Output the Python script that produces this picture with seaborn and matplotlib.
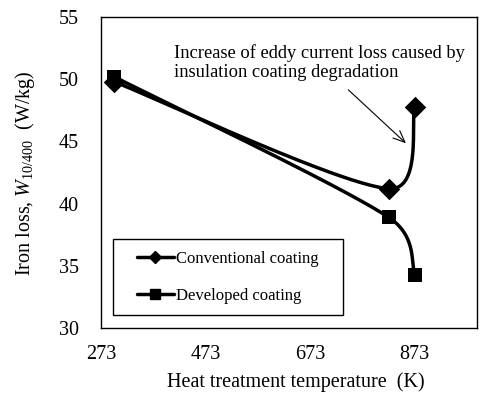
import numpy as np
import pandas as pd
import matplotlib
matplotlib.use("Agg")
import matplotlib.pyplot as plt
import seaborn as sns
from matplotlib.lines import Line2D
from matplotlib.patches import Rectangle

# ---- data ----
temps_conv = [298, 823, 873]
loss_conv = [49.8, 41.2, 47.8]
temps_dev = [298, 823, 873]
loss_dev = [50.2, 38.9, 34.3]
series_names = ["Conventional coating", "Developed coating"]
xticks_major = [273, 473, 673, 873]
xticks_minor = [373, 573, 773, 973]
yticks = [30, 35, 40, 45, 50, 55]
annotation_text = "Increase of eddy current loss caused by\ninsulation coating degradation"

sns.set_theme(style="white")
plt.rcParams['font.family'] = ['Liberation Serif', 'DejaVu Serif']
plt.rcParams['mathtext.fontset'] = 'custom'
plt.rcParams['mathtext.rm'] = 'Liberation Serif'
plt.rcParams['mathtext.it'] = 'Liberation Serif:italic'

W, H = 481, 394
fig = plt.figure(figsize=(W / 100, H / 100), dpi=100)
left, right, bottom, top = 101, 477, 328, 17
aw, ah = right - left, bottom - top
ax = fig.add_axes([left / W, (H - bottom) / H, aw / W, ah / H])
ax.set_xlim(273, 992)
ax.set_ylim(30, 55)


def smooth(xs, ys, n=80):
    pts = ax.transData.transform(np.column_stack([xs, ys]))
    P = np.vstack([pts[0], pts, pts[-1]])
    out = []
    for i in range(1, len(P) - 2):
        p0, p1, p2, p3 = P[i - 1], P[i], P[i + 1], P[i + 2]
        d1 = np.linalg.norm(p1 - p0)
        d2 = np.linalg.norm(p2 - p1)
        d3 = np.linalg.norm(p3 - p2)
        f1 = min(1.0, np.sqrt(2 * d2 / (d1 + d2))) if d1 > 0 else 1.0
        f2 = min(1.0, np.sqrt(2 * d2 / (d2 + d3))) if d3 > 0 else 1.0
        c1 = p1 + (p2 - p0) / 6 * f1
        c2 = p2 - (p3 - p1) / 6 * f2
        t = np.linspace(0, 1, n)[:, None]
        seg = ((1 - t) ** 3) * p1 + 3 * ((1 - t) ** 2) * t * c1 + 3 * (1 - t) * t ** 2 * c2 + t ** 3 * p2
        out.append(seg)
    out = np.vstack(out)
    d = ax.transData.inverted().transform(out)
    return d[:, 0], d[:, 1]


lw = 2.5
for xs, ys in [(temps_conv, loss_conv), (temps_dev, loss_dev)]:
    sx, sy = smooth(xs, ys)
    ax.plot(sx, sy, color="black", lw=lw, solid_capstyle="round", zorder=2)

df_conv = pd.DataFrame({"T": temps_conv, "loss": loss_conv})
df_dev = pd.DataFrame({"T": temps_dev, "loss": loss_dev})
sns.scatterplot(data=df_conv, x="T", y="loss", marker="D", s=120, color="black",
                edgecolor="black", linewidth=0, legend=False, ax=ax, zorder=3)
sns.scatterplot(data=df_dev, x="T", y="loss", marker="s", s=90, color="black",
                edgecolor="black", linewidth=0, legend=False, ax=ax, zorder=3)

ax.set_xticks(xticks_major)
ax.set_xticks(xticks_minor, minor=True)
ax.set_yticks(yticks)
ax.tick_params(axis="both", which="both", direction="in", labelsize=14.5,
               colors="black", length=6, width=1)
ax.tick_params(axis="x", which="major", pad=12)
ax.tick_params(axis="y", which="major", pad=16)
for s in ["left", "bottom", "top", "right"]:
    ax.spines[s].set_color("black")
    ax.spines[s].set_linewidth(1.0)

ax.set_xlabel("Heat treatment temperature  (K)", fontsize=14.5, color="black")
ax.xaxis.set_label_coords((296 - left) / aw, -(387 - bottom) / ah)
ax.xaxis.label.set_va("baseline")
ax.set_ylabel(r"Iron loss, $W_{10/400}$  (W/kg)", fontsize=14.5, color="black")
ax.yaxis.set_label_coords(-(101 - 37) / aw, (bottom - 173) / ah)

ax.annotate("", xy=(860, 44.7), xytext=(742, 49.3),
            arrowprops=dict(arrowstyle="->,head_length=0.7,head_width=0.3", lw=0.8, color="black"))
ax.text(413, 52.85, annotation_text, fontsize=13.3, va="top", ha="left",
        color="black", linespacing=1.15)

# legend box (reference frame is wider than its content)
ax.add_patch(Rectangle(((113 - left) / aw, (bottom - 315) / ah), (343 - 113) / aw, (315 - 239) / ah,
                       transform=ax.transAxes, fill=False, edgecolor="black", lw=1.0, zorder=4))
handles = [Line2D([], [], color="black", lw=lw, marker="D", markersize=6.5),
           Line2D([], [], color="black", lw=lw, marker="s", markersize=7.5)]
leg = ax.legend(handles, series_names, loc="upper left",
                bbox_to_anchor=((137 - left) / aw, (bottom - 251) / ah),
                fontsize=12, frameon=False,
                handlelength=2.2, handletextpad=0.12, labelspacing=1.25,
                borderpad=0, borderaxespad=0)
for t in leg.get_texts():
    t.set_color("black")

fig.savefig("out.png", dpi=100)
